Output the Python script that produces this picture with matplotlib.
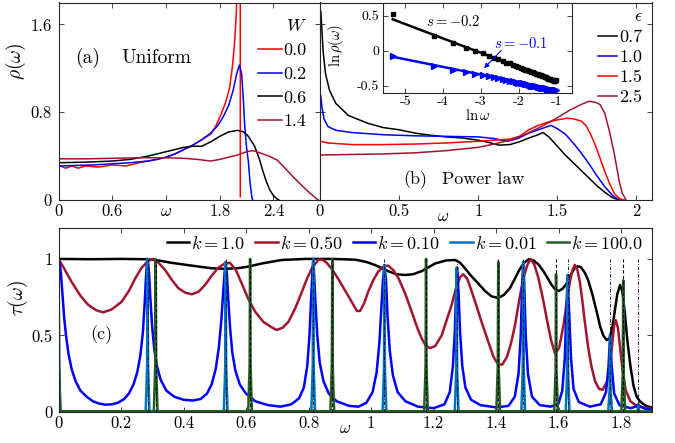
import numpy as np
import matplotlib
matplotlib.use('Agg')
import matplotlib.pyplot as plt

plt.rcParams['font.family'] = 'serif'
plt.rcParams['font.serif'] = ['cmr10']
plt.rcParams['mathtext.fontset'] = 'cm'
plt.rcParams['axes.unicode_minus'] = False
plt.rcParams['axes.formatter.use_mathtext'] = True

RED, BLUE, DRED = '#FF0000', '#0000FF', '#A2142F'
LBLUE, DGREEN = '#0072BD', '#225E22'

# ---------------- (a) uniform disorder: rho(omega) for several W
W_labels = ['0.0', '0.2', '0.6', '1.4']
a_w0 = [0.02, 0.08, 0.15, 0.22, 0.3, 0.45, 0.6, 0.75, 0.9, 1.0, 1.1, 1.2, 1.3, 1.4, 1.5, 1.6, 1.7,
        1.76, 1.82, 1.87, 1.91, 1.94, 1.965, 1.985, 2.0, 2.03, 2.03]
a_r0 = [0.31, 0.29, 0.31, 0.29, 0.31, 0.3, 0.32, 0.31, 0.34, 0.355, 0.37, 0.39, 0.42, 0.46, 0.5, 0.55, 0.6,
        0.68, 0.79, 0.9, 1.02, 1.2, 1.42, 1.7, 2.0, 2.0, 0.03]
a_w2 = [0.02, 0.2, 0.4, 0.6, 0.8, 1.0, 1.1, 1.2, 1.3, 1.4, 1.5, 1.6, 1.7, 1.78, 1.84, 1.9, 1.95,
        1.99, 2.02, 2.045, 2.065, 2.08, 2.10, 2.12, 2.14, 2.16, 2.17]
a_r2 = [0.31, 0.315, 0.32, 0.33, 0.34, 0.355, 0.37, 0.39, 0.42, 0.46, 0.5, 0.55, 0.61, 0.68, 0.76, 0.86, 1.0,
        1.15, 1.23, 1.15, 0.9, 0.67, 0.48, 0.35, 0.15, 0.02, 0.0]
a_w6 = [0.02, 0.3, 0.6, 0.8, 1.0, 1.2, 1.4, 1.5, 1.6, 1.7, 1.8, 1.9, 2.0, 2.07, 2.12, 2.19, 2.24, 2.28,
        2.32, 2.36, 2.4, 2.44, 2.46]
a_r6 = [0.34, 0.345, 0.355, 0.37, 0.4, 0.44, 0.48, 0.49, 0.49, 0.53, 0.58, 0.62, 0.635, 0.62, 0.58, 0.49,
        0.38, 0.27, 0.17, 0.09, 0.04, 0.01, 0.0]
a_w14 = [0.02, 0.3, 0.6, 0.9, 1.2, 1.4, 1.55, 1.7, 1.8, 1.9, 2.0, 2.1, 2.17, 2.25, 2.35, 2.44, 2.53,
         2.62, 2.72, 2.81, 2.9]
a_r14 = [0.375, 0.375, 0.38, 0.385, 0.385, 0.38, 0.37, 0.355, 0.37, 0.39, 0.41, 0.44, 0.45, 0.43, 0.40,
         0.365, 0.29, 0.21, 0.13, 0.06, 0.0]

# ---------------- (b) power-law disorder
eps_labels = ['0.7', '1.0', '1.5', '2.5']
b_w07 = [0.005, 0.012, 0.02, 0.035, 0.06, 0.1, 0.18, 0.3, 0.4, 0.5, 0.6, 0.7, 0.8, 0.9, 1.0, 1.08, 1.13,
         1.2, 1.26, 1.32, 1.37, 1.41, 1.45, 1.5, 1.55, 1.6, 1.65, 1.7, 1.75, 1.8, 1.85, 1.88, 1.92]
b_r07 = [1.72, 1.55, 1.35, 1.15, 1.0, 0.88, 0.77, 0.70, 0.66, 0.64, 0.61, 0.59, 0.575, 0.565, 0.545, 0.52,
         0.50, 0.505, 0.53, 0.565, 0.59, 0.615, 0.57, 0.49, 0.41, 0.34, 0.27, 0.20, 0.13, 0.07, 0.02, 0.005, 0.0]
b_w10 = [0.005, 0.012, 0.025, 0.05, 0.1, 0.2, 0.4, 0.6, 0.8, 1.0, 1.1, 1.18, 1.25, 1.32, 1.38, 1.42, 1.46,
         1.5, 1.55, 1.6, 1.65, 1.7, 1.75, 1.8, 1.85, 1.88, 1.91]
b_r10 = [0.95, 0.85, 0.74, 0.67, 0.635, 0.615, 0.595, 0.585, 0.58, 0.575, 0.56, 0.535, 0.56, 0.61, 0.64,
         0.66, 0.68, 0.65, 0.6, 0.52, 0.43, 0.33, 0.22, 0.12, 0.04, 0.01, 0.0]
b_w15 = [0.005, 0.05, 0.2, 0.4, 0.6, 0.8, 1.0, 1.1, 1.2, 1.26, 1.32, 1.38, 1.44, 1.5, 1.56, 1.6, 1.65,
         1.68, 1.71, 1.74, 1.77, 1.8, 1.83, 1.86, 1.89, 1.92]
b_r15 = [0.535, 0.52, 0.505, 0.505, 0.51, 0.52, 0.535, 0.545, 0.555, 0.58, 0.64, 0.68, 0.71, 0.73, 0.745,
         0.74, 0.72, 0.68, 0.6, 0.5, 0.38, 0.26, 0.15, 0.06, 0.015, 0.0]
b_w25 = [0.005, 0.2, 0.4, 0.6, 0.8, 1.0, 1.1, 1.2, 1.3, 1.4, 1.5, 1.58, 1.65, 1.7, 1.74, 1.77, 1.8, 1.83,
         1.86, 1.89, 1.91, 1.935]
b_r25 = [0.41, 0.415, 0.42, 0.43, 0.45, 0.48, 0.51, 0.545, 0.6, 0.67, 0.75, 0.82, 0.87, 0.90, 0.89, 0.87,
         0.79, 0.62, 0.42, 0.18, 0.06, 0.0]

# inset: ln rho vs ln omega
in_lnw = [-5.33, -4.23, -3.73, -3.40, -3.16, -2.96, -2.80, -2.66, -2.54, -2.43, -2.33, -2.24, -2.16, -2.09,
          -2.02, -1.95, -1.89, -1.83, -1.78, -1.73, -1.68, -1.63, -1.59, -1.55, -1.51, -1.47, -1.43, -1.39,
          -1.36, -1.32, -1.29, -1.26, -1.23, -1.20, -1.17, -1.14, -1.11, -1.08, -1.05, -1.02]
in_black = [0.53, 0.21, 0.11, 0.04, -0.01, -0.04, -0.07, -0.10, -0.12, -0.15, -0.17, -0.18, -0.20, -0.22,
            -0.23, -0.25, -0.26, -0.27, -0.28, -0.29, -0.30, -0.31, -0.32, -0.33, -0.34, -0.35, -0.35, -0.36,
            -0.37, -0.38, -0.38, -0.39, -0.40, -0.40, -0.41, -0.42, -0.42, -0.43, -0.43, -0.42]
in_blue = [-0.07, -0.22, -0.27, -0.30, -0.33, -0.35, -0.37, -0.38, -0.39, -0.40, -0.42, -0.43, -0.44, -0.45,
           -0.46, -0.46, -0.47, -0.48, -0.48, -0.49, -0.50, -0.50, -0.51, -0.51, -0.52, -0.52, -0.53, -0.53,
           -0.54, -0.54, -0.54, -0.55, -0.55, -0.55, -0.56, -0.56, -0.56, -0.57, -0.57, -0.57]
fit_x = [-5.33, -1.02]
fit_black = [0.45, -0.44]
fit_blue = [-0.087, -0.56]

# ---------------- (c) transmission tau(omega)
k_labels = [r'$k=1.0$', r'$k=0.50$', r'$k=0.10$', r'$k=0.01$', r'$k=100.0$']
c_w1 = [0, 0.1, 0.2, 0.28, 0.32, 0.36, 0.42, 0.485, 0.533, 0.576, 0.608, 0.65, 0.714, 0.79, 0.875, 0.95,
        0.985, 1.013, 1.055, 1.08, 1.109, 1.135, 1.162, 1.205, 1.24, 1.269, 1.285, 1.30, 1.32, 1.343, 1.365,
        1.386, 1.407, 1.425, 1.445, 1.46, 1.475, 1.49, 1.505, 1.52, 1.535, 1.55, 1.565, 1.578, 1.59, 1.6,
        1.613, 1.626, 1.64, 1.652, 1.662, 1.672, 1.684, 1.695, 1.708, 1.722, 1.733, 1.743, 1.754, 1.763,
        1.772, 1.78, 1.788, 1.797, 1.804, 1.812, 1.82, 1.83, 1.84, 1.85, 1.861, 1.88, 1.9]
c_t1 = [1.0, 0.998, 1.0, 0.998, 0.99, 0.975, 0.958, 0.94, 0.935, 0.94, 0.95, 0.97, 0.993, 1.0, 1.0, 0.995,
        0.98, 0.96, 0.92, 0.9, 0.895, 0.9, 0.92, 0.97, 0.99, 0.993, 0.975, 0.94, 0.89, 0.84, 0.79,
        0.755, 0.745, 0.765, 0.81, 0.87, 0.93, 0.975, 0.998, 0.99, 0.965, 0.925, 0.875, 0.83, 0.8, 0.79,
        0.805, 0.84, 0.9, 0.94, 0.952, 0.945, 0.91, 0.86, 0.77, 0.656, 0.56, 0.50, 0.47, 0.48,
        0.55, 0.66, 0.77, 0.83, 0.79, 0.65, 0.47, 0.3, 0.17, 0.1, 0.068, 0.04, 0.028]
c_w05 = [0, 0.02, 0.042, 0.07, 0.095, 0.12, 0.143, 0.17, 0.202, 0.225, 0.245, 0.265, 0.287, 0.303, 0.32,
         0.341, 0.362, 0.383, 0.405, 0.426, 0.448, 0.469, 0.49, 0.51, 0.53, 0.548, 0.567, 0.586, 0.607,
         0.629, 0.655, 0.682, 0.698, 0.717, 0.736, 0.758, 0.779, 0.795, 0.811, 0.832, 0.845, 0.858, 0.876,
         0.895, 0.918, 0.938, 0.955, 0.965, 0.978, 0.991, 1.007, 1.023, 1.04, 1.055, 1.072, 1.088, 1.11,
         1.13, 1.148, 1.162, 1.176, 1.189, 1.205, 1.226, 1.242, 1.258, 1.272, 1.285, 1.295, 1.308, 1.32,
         1.333, 1.355, 1.375, 1.392, 1.407, 1.42, 1.435, 1.448, 1.461, 1.475, 1.487, 1.5, 1.511, 1.523,
         1.535, 1.548, 1.562, 1.576, 1.589, 1.602, 1.616, 1.627, 1.637, 1.645, 1.652, 1.66, 1.668, 1.676,
         1.684, 1.695, 1.705, 1.717, 1.73, 1.742, 1.755, 1.765, 1.772, 1.778, 1.783, 1.79, 1.797, 1.805,
         1.815, 1.83, 1.85, 1.876, 1.9]
c_t05 = [1.0, 0.93, 0.85, 0.76, 0.70, 0.665, 0.651, 0.67, 0.72, 0.79, 0.87, 0.94, 0.987, 1.0, 0.975,
         0.928, 0.865, 0.81, 0.78, 0.769, 0.785, 0.83, 0.89, 0.94, 0.968, 0.975, 0.93, 0.841, 0.74,
         0.656, 0.59, 0.553, 0.536, 0.55, 0.59, 0.68, 0.786, 0.87, 0.94, 0.995, 0.995, 0.975, 0.93,
         0.87, 0.79, 0.72, 0.66, 0.66, 0.71, 0.786, 0.86, 0.917, 0.95, 0.956, 0.925, 0.874, 0.77,
         0.656, 0.55, 0.481, 0.43, 0.418, 0.43, 0.5, 0.6, 0.70, 0.81, 0.88, 0.90, 0.87, 0.8,
         0.721, 0.58, 0.46, 0.36, 0.31, 0.31, 0.36, 0.45, 0.569, 0.74, 0.87, 0.96, 1.0, 0.96,
         0.88, 0.76, 0.613, 0.47, 0.38, 0.42, 0.569, 0.73, 0.86, 0.93, 0.961, 0.93, 0.852, 0.73,
         0.59, 0.42, 0.3, 0.2, 0.15, 0.145, 0.2, 0.307, 0.45, 0.57, 0.6, 0.55, 0.42, 0.27,
         0.14, 0.07, 0.04, 0.028, 0.02]
c_w01 = [0, 0.004, 0.008, 0.013, 0.018, 0.024, 0.032, 0.042, 0.055, 0.07, 0.09, 0.11, 0.13, 0.15, 0.17,
         0.19, 0.21, 0.225, 0.24, 0.252, 0.262, 0.27, 0.276, 0.28, 0.283, 0.285, 0.287, 0.29, 0.294, 0.3,
         0.307, 0.315, 0.327, 0.345, 0.37, 0.4, 0.43, 0.455, 0.475, 0.49, 0.503, 0.513, 0.521, 0.527, 0.531,
         0.535, 0.539, 0.543, 0.549, 0.556, 0.566, 0.58, 0.6, 0.63, 0.67, 0.71, 0.745, 0.77, 0.785, 0.796,
         0.803, 0.808, 0.812, 0.815, 0.818, 0.822, 0.828, 0.836, 0.848, 0.865, 0.89, 0.93, 0.96, 0.985,
         1.005, 1.018, 1.027, 1.033, 1.038, 1.043, 1.048, 1.053, 1.06, 1.07, 1.085, 1.11, 1.15, 1.2, 1.235,
         1.252, 1.262, 1.268, 1.272, 1.276, 1.28, 1.285, 1.292, 1.302, 1.32, 1.35, 1.4, 1.44, 1.46, 1.472,
         1.479, 1.484, 1.487, 1.49, 1.495, 1.502, 1.515, 1.54, 1.575, 1.6, 1.612, 1.62, 1.626, 1.629, 1.633,
         1.64, 1.648, 1.665, 1.7, 1.735, 1.752, 1.76, 1.765, 1.77, 1.778, 1.795, 1.83, 1.848, 1.855, 1.862,
         1.88, 1.9]
c_t01 = [1.0, 0.97, 0.9, 0.76, 0.62, 0.5, 0.38, 0.28, 0.2, 0.14, 0.1, 0.07, 0.055, 0.048, 0.05,
         0.06, 0.085, 0.12, 0.18, 0.26, 0.37, 0.52, 0.72, 0.88, 0.97, 1.0, 0.97, 0.9, 0.74, 0.55,
         0.4, 0.3, 0.21, 0.14, 0.1, 0.08, 0.075, 0.085, 0.12, 0.18, 0.28, 0.42, 0.6, 0.78, 0.9,
         0.98, 0.9, 0.74, 0.55, 0.39, 0.27, 0.18, 0.12, 0.07, 0.045, 0.035, 0.05, 0.09, 0.16, 0.3,
         0.5, 0.72, 0.9, 1.0, 0.9, 0.72, 0.5, 0.32, 0.2, 0.12, 0.07, 0.04, 0.035, 0.06,
         0.13, 0.26, 0.46, 0.68, 0.86, 0.96, 0.86, 0.62, 0.4, 0.24, 0.13, 0.07, 0.035, 0.025, 0.05,
         0.13, 0.3, 0.52, 0.78, 0.943, 0.78, 0.52, 0.3, 0.16, 0.08, 0.045, 0.03, 0.04, 0.1, 0.25,
         0.5, 0.85, 0.98, 0.85, 0.5, 0.25, 0.1, 0.045, 0.035, 0.055, 0.14, 0.35, 0.7, 0.895, 0.7,
         0.35, 0.15, 0.065, 0.035, 0.05, 0.13, 0.3, 0.503, 0.3, 0.12, 0.045, 0.025, 0.035, 0.05, 0.035,
         0.018, 0.013]
c_w001 = [0, 0.002, 0.006,
          0.279, 0.2835, 0.285, 0.2865, 0.291,
          0.529, 0.5335, 0.535, 0.5365, 0.541,
          0.809, 0.8135, 0.815, 0.8165, 0.821,
          1.037, 1.0415, 1.043, 1.0445, 1.049,
          1.268, 1.2725, 1.274, 1.2755, 1.280,
          1.481, 1.4855, 1.487, 1.4885, 1.493,
          1.623, 1.6275, 1.629, 1.6305, 1.635,
          1.759, 1.7635, 1.765, 1.7665, 1.771,
          1.849, 1.8535, 1.855, 1.8565, 1.861, 1.9]
c_t001 = [1.0, 0.3, 0.005,
          0.005, 0.3, 1.0, 0.3, 0.005,
          0.005, 0.29, 0.976, 0.29, 0.005,
          0.005, 0.3, 1.0, 0.3, 0.005,
          0.005, 0.29, 0.96, 0.29, 0.005,
          0.005, 0.28, 0.943, 0.28, 0.005,
          0.005, 0.29, 0.98, 0.29, 0.005,
          0.005, 0.27, 0.895, 0.27, 0.005,
          0.005, 0.15, 0.503, 0.15, 0.005,
          0.003, 0.015, 0.046, 0.015, 0.003, 0.002]
c_w100 = [0, 0.002, 0.006,
          0.305, 0.3095, 0.311, 0.3125, 0.317,
          0.607, 0.6115, 0.613, 0.6145, 0.619,
          0.870, 0.8745, 0.876, 0.8775, 0.882,
          1.170, 1.1745, 1.176, 1.1775, 1.182,
          1.401, 1.4055, 1.407, 1.4085, 1.413,
          1.586, 1.5905, 1.592, 1.5935, 1.598,
          1.801, 1.8055, 1.807, 1.8085, 1.813, 1.9]
c_t100 = [1.0, 0.3, 0.005,
          0.005, 0.3, 1.0, 0.3, 0.005,
          0.005, 0.3, 1.0, 0.3, 0.005,
          0.005, 0.3, 1.0, 0.3, 0.005,
          0.005, 0.3, 1.0, 0.3, 0.005,
          0.005, 0.29, 0.98, 0.29, 0.005,
          0.005, 0.27, 0.90, 0.27, 0.005,
          0.005, 0.26, 0.86, 0.26, 0.005, 0.002]
res_k001 = [0.285, 0.535, 0.815, 1.043, 1.274, 1.487, 1.629, 1.765, 1.855]
res_k100 = [0.311, 0.613, 0.876, 1.176, 1.407, 1.592, 1.807]

W, H = 675, 443
fig = plt.figure(figsize=(W / 100, H / 100), dpi=100)


def px_rect(x0, y0, x1, y1):
    return [x0 / W, 1 - y1 / H, (x1 - x0) / W, (y1 - y0) / H]


def style(ax, size=12, pad=3):
    ax.tick_params(direction='in', top=True, right=True, length=3.5, width=0.6,
                   labelsize=size, pad=pad, colors='0.15', labelcolor='k')
    for s in ax.spines.values():
        s.set_linewidth(0.8)
        s.set_color('0.15')


ax_a = fig.add_axes(px_rect(58.5, 2.5, 320, 200))
ax_b = fig.add_axes(px_rect(320, 2.5, 652.3, 200))
ax_c = fig.add_axes(px_rect(58.5, 228.3, 652.3, 412))

# (a)
lw = 1.1
for w, r, col, lab in zip([a_w0, a_w2, a_w6, a_w14], [a_r0, a_r2, a_r6, a_r14],
                          [RED, BLUE, 'k', DRED], W_labels):
    ax_a.plot(w, r, color=col, lw=lw, label=lab)
ax_a.set_xlim(0, 2.92)
ax_a.set_ylim(0, 1.8)
ax_a.set_xticks([0, 0.6, 1.2, 1.8, 2.4])
ax_a.set_xticklabels(['0', '0.6', r'$\omega$', '1.8', '2.4'])
ax_a.set_yticks([0, 0.8, 1.6])
ax_a.set_yticklabels(['0', '0.8', '1.6'])
style(ax_a)
ax_a.tick_params(axis='y', pad=5)
ax_a.set_ylabel(r'$\rho(\omega)$', fontsize=14)
ax_a.yaxis.set_label_coords(-0.115, 0.70)
ax_a.text(0.33, 1.295, '(a)', fontsize=14, ha='center', va='center')
ax_a.text(1.094, 1.295, 'Uniform', fontsize=14, ha='center', va='center')
ax_a.legend(title=r'$W$', loc='upper right', bbox_to_anchor=(0.95, 0.92), frameon=False,
            fontsize=13, title_fontsize=13, handlelength=1.3, handletextpad=0.1,
            labelspacing=0.45, borderpad=0, borderaxespad=0, alignment='right')

# (b)
for w, r, col, lab in zip([b_w07, b_w10, b_w15, b_w25], [b_r07, b_r10, b_r15, b_r25],
                          ['k', BLUE, RED, DRED], eps_labels):
    ax_b.plot(w, r, color=col, lw=lw, label=lab)
ax_b.set_xlim(0, 2.1)
ax_b.set_ylim(0, 1.8)
ax_b.set_xticks([0, 0.5, 1, 1.5, 2])
ax_b.set_xticklabels(['0', '0.5', '1', '1.5', '2'])
ax_b.set_yticks([0, 0.8, 1.6])
ax_b.set_yticklabels([])
style(ax_b)
ax_b.annotate(r'$\omega$', xy=(0.776, 0), xycoords=('data', 'axes fraction'), xytext=(0, -11.5),
              textcoords='offset points', ha='center', va='center', fontsize=12)
ax_b.text(0.60, 0.19, '(b)', fontsize=13, ha='center', va='center')
ax_b.text(1.033, 0.19, 'Power law', fontsize=13, ha='center', va='center')
ax_b.legend(title=r'$\epsilon$', loc='upper right', bbox_to_anchor=(0.97, 0.965), frameon=False,
            fontsize=13, title_fontsize=13, handlelength=1.1, handletextpad=0.1,
            labelspacing=0.25, borderpad=0, borderaxespad=0, alignment='right')

# inset
ax_in = fig.add_axes(px_rect(382.5, 3.3, 572, 92.5))
ax_in.plot(in_lnw, in_black, 's', color='k', ms=3.2)
ax_in.plot(in_lnw, in_blue, '>', color=BLUE, ms=3.8)
ax_in.plot(fit_x, fit_black, color='k', lw=1.8)
ax_in.plot(fit_x, fit_blue, color=BLUE, lw=1.8)
ax_in.set_xlim(-5.6, -0.6)
ax_in.set_ylim(-0.6, 0.68)
ax_in.set_xticks([-5, -4, -3, -2, -1])
ax_in.set_xticklabels(['-5', '-4', '-3', '-2', '-1'])
ax_in.set_yticks([-0.5, 0, 0.5])
ax_in.set_yticklabels(['-0.5', '0', '0.5'])
style(ax_in, size=10, pad=2.5)
ax_in.set_ylabel(r'$\ln\rho(\omega)$', fontsize=10.5)
ax_in.yaxis.set_label_coords(-0.19, 0.53)
ax_in.set_xlabel(r'$\ln\omega$', fontsize=10.5, labelpad=0)
ax_in.text(-3.74, 0.42, r'$s=-0.2$', fontsize=10.5, ha='center', va='center')
ax_in.text(-1.94, 0.10, r'$s=-0.1$', fontsize=10.5, ha='center', va='center', color=BLUE)
ax_in.annotate('', xy=(-2.97, -0.28), xytext=(-2.42, 0.03),
               arrowprops=dict(arrowstyle='-|>', color=BLUE, lw=0.8, mutation_scale=7))

# (c)
lwc = 1.8
for w, t, col, lab in zip([c_w1, c_w05, c_w01, c_w001, c_w100],
                          [c_t1, c_t05, c_t01, c_t001, c_t100],
                          ['k', DRED, BLUE, LBLUE, DGREEN], k_labels):
    ax_c.plot(w, t, color=col, lw=lwc, label=lab)
ax_c.vlines(res_k001, 0, 1, colors='k', lw=0.6, linestyles=(0, (4, 2, 1, 2)), zorder=5)
ax_c.vlines(res_k100, 0, 1, colors='k', lw=0.8, linestyles=(0, (3, 2)), zorder=5)
ax_c.set_xlim(0, 1.9)
ax_c.set_ylim(0, 1.2)
ax_c.set_xticks([0, 0.2, 0.4, 0.6, 0.8, 1, 1.2, 1.4, 1.6, 1.8])
ax_c.set_xticklabels(['0', '0.2', '0.4', '0.6', '0.8', '1', '1.2', '1.4', '1.6', '1.8'])
ax_c.set_yticks([0, 0.5, 1])
ax_c.set_yticklabels(['0', '0.5', '1'])
style(ax_c)
ax_c.tick_params(axis='y', pad=4)
ax_c.annotate(r'$\omega$', xy=(0.917, 0), xycoords=('data', 'axes fraction'), xytext=(0, -11.5),
              textcoords='offset points', ha='center', va='center', fontsize=12)
ax_c.set_ylabel(r'$\tau(\omega)$', fontsize=14)
ax_c.yaxis.set_label_coords(-0.048, 0.62)
ax_c.text(0.138, 0.503, '(c)', fontsize=13, ha='center', va='center')
ax_c.legend(loc='upper right', bbox_to_anchor=(0.985, 0.965), ncol=5, frameon=False, fontsize=13,
            handlelength=1.25, handletextpad=0.1, columnspacing=0.55, borderpad=0, borderaxespad=0)

fig.savefig('out.png', dpi=100)
